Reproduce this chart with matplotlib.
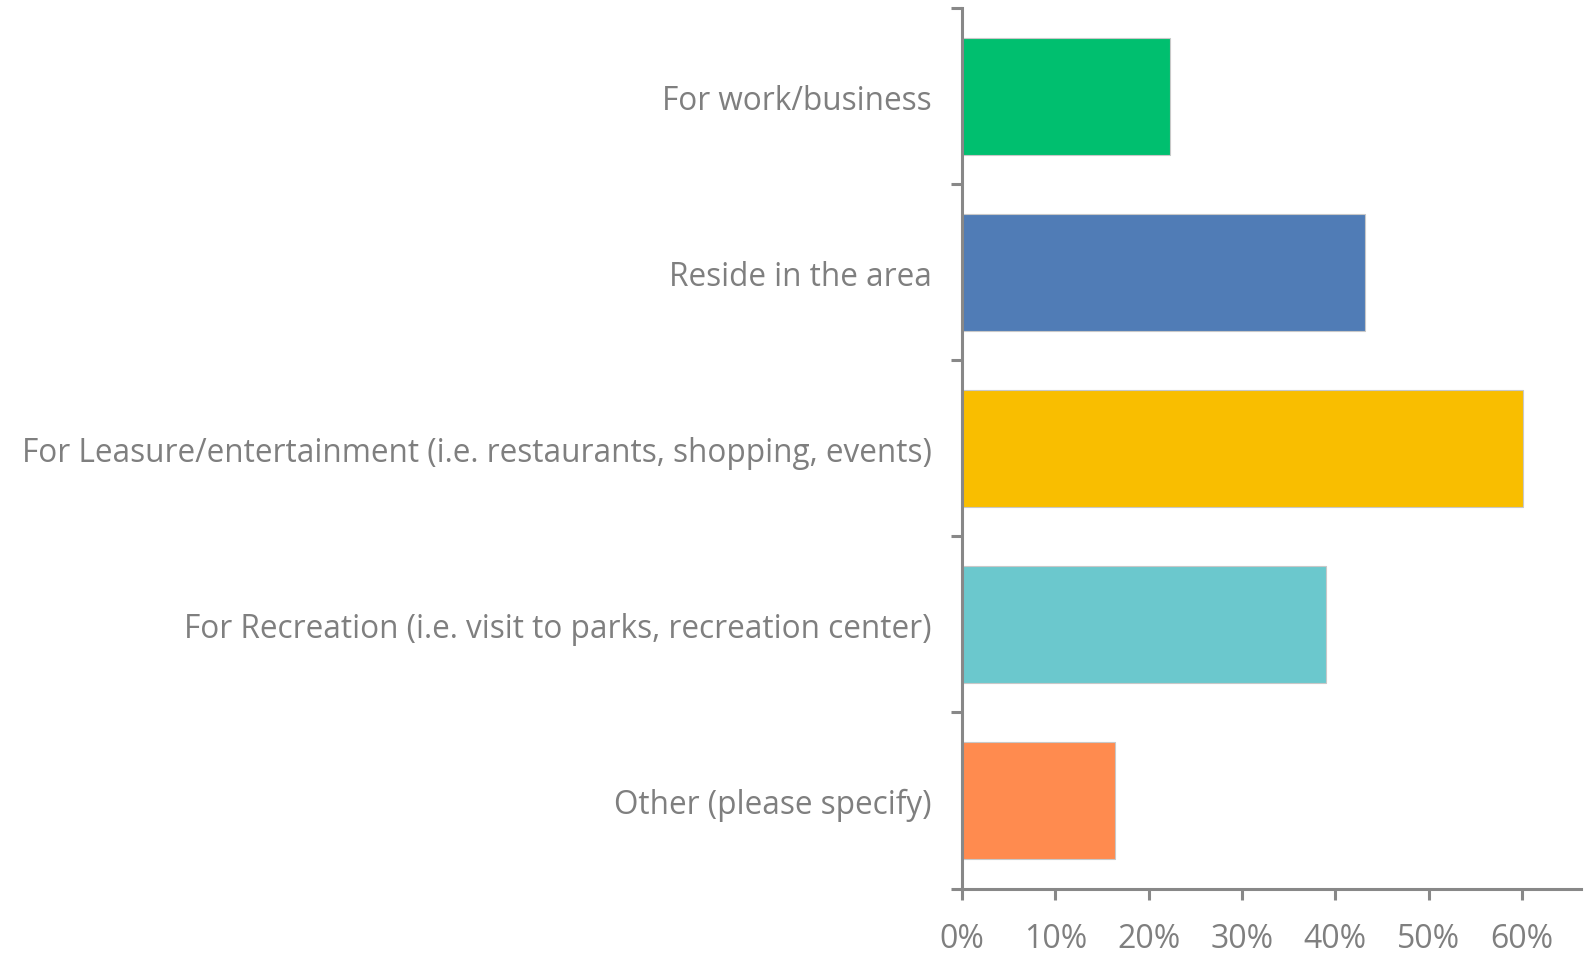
import numpy as np
import matplotlib.pyplot as plt
from matplotlib.ticker import FixedLocator, PercentFormatter

categorias = [
    "For work/business",
    "Reside in the area",
    "For Leasure/entertainment (i.e. restaurants, shopping, events)",
    "For Recreation (i.e. visit to parks, recreation center)",
    "Other (please specify)",
]
valores = [0.223, 0.432, 0.601, 0.390, 0.164]
colores = ["#00BF6F", "#507CB6", "#F9BE00", "#6BC8CD", "#FF8B4F"]
ticks_x = [0, 0.1, 0.2, 0.3, 0.4, 0.5, 0.6]

plt.rcParams['font.family'] = ['Open Sans', 'DejaVu Sans']
gris = "#888888"
texto = "#7f7f7f"

fig = plt.figure(figsize=(15.94, 9.54), dpi=100)
ax = fig.add_axes([0.6035, 0.0676, 0.3883, 0.9227])

pos = np.arange(len(categorias))
ax.barh(pos, valores, height=0.667, color=colores, edgecolor="#c8c8c8", linewidth=0.8)
ax.set_ylim(len(categorias) - 0.5, -0.5)
ax.set_xlim(0, 0.663)

ax.set_yticks(pos)
ax.set_yticklabels(categorias)
ax.yaxis.set_minor_locator(FixedLocator(np.arange(-0.5, len(categorias), 1)))
ax.tick_params(axis="y", which="major", length=0, pad=22, labelsize=22.7, labelcolor=texto)
ax.tick_params(axis="y", which="minor", length=8, width=2.2, color=gris)

ax.set_xticks(ticks_x)
ax.xaxis.set_major_formatter(PercentFormatter(1.0, decimals=0))
ax.tick_params(axis="x", length=8, width=2.2, color=gris, pad=16, labelsize=23, labelcolor=texto)

for lado in ["top", "right"]:
    ax.spines[lado].set_visible(False)
for lado in ["left", "bottom"]:
    ax.spines[lado].set_color(gris)
    ax.spines[lado].set_linewidth(2.2)

fig.savefig("out.png", dpi=100)
